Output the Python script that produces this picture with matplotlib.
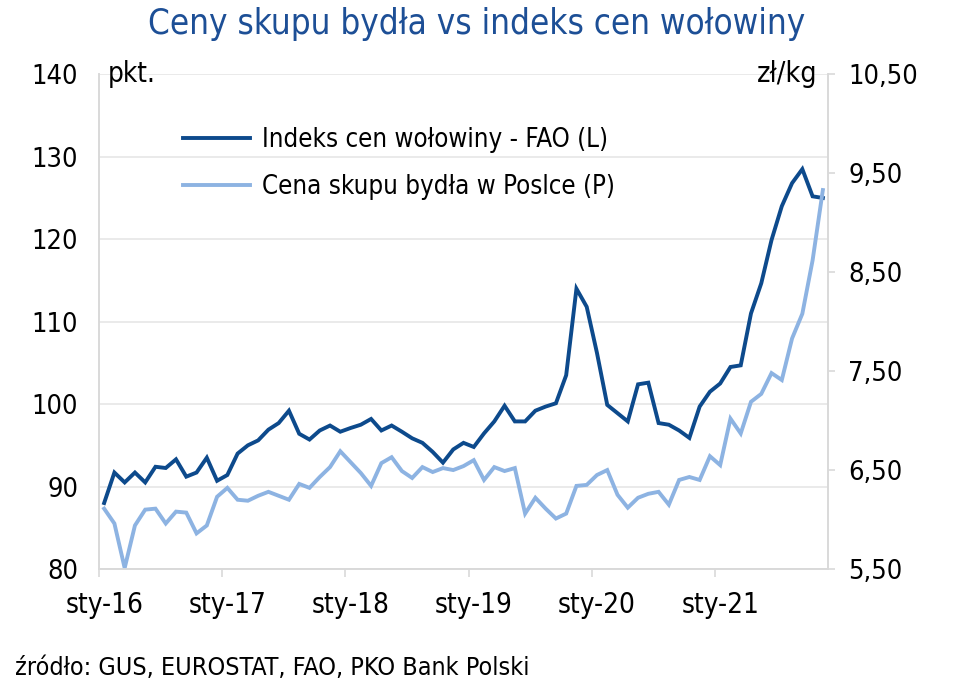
import matplotlib
matplotlib.use("Agg")
import matplotlib.pyplot as plt
import numpy as np
from matplotlib.ticker import FixedLocator, FuncFormatter

plt.rcParams['font.family'] = ['DejaVu Sans']
plt.rcParams['font.stretch'] = 'condensed'

# Monthly data: Jan 2016 .. Nov 2021
fao_index = [88.0, 91.7, 90.5, 91.7, 90.5, 92.4, 92.25, 93.3, 91.2, 91.7, 93.5, 90.7,
             91.4, 94.0, 95.0, 95.6, 96.9, 97.7, 99.2, 96.4, 95.7, 96.8, 97.4, 96.65,
             97.1, 97.5, 98.2, 96.8, 97.4, 96.65, 95.85, 95.3, 94.2, 92.9, 94.5, 95.3,
             94.8, 96.45, 97.9, 99.8, 97.9, 97.9, 99.2, 99.7, 100.1, 103.5, 114.0, 111.8,
             106.2, 99.9, 98.9, 97.9, 102.4, 102.6, 97.7, 97.5, 96.8, 95.9, 99.7, 101.5,
             102.5, 104.5, 104.7, 111.0, 114.65, 119.9, 124.0, 126.8, 128.5, 125.2, 125.0]
cattle_price = [6.11, 5.96, 5.51, 5.94, 6.10, 6.11, 5.96, 6.08, 6.07, 5.86, 5.94, 6.23,
                6.32, 6.20, 6.19, 6.24, 6.28, 6.24, 6.20, 6.36, 6.32, 6.43, 6.53, 6.69,
                6.58, 6.47, 6.34, 6.57, 6.63, 6.49, 6.42, 6.53, 6.48, 6.52, 6.50, 6.54,
                6.60, 6.40, 6.53, 6.49, 6.52, 6.06, 6.22, 6.11, 6.01, 6.06, 6.34, 6.35,
                6.45, 6.50, 6.25, 6.12, 6.22, 6.26, 6.28, 6.15, 6.40, 6.43, 6.40, 6.64,
                6.55, 7.02, 6.87, 7.19, 7.27, 7.48, 7.41, 7.83, 8.08, 8.62, 9.33]
year_labels = ['sty-16', 'sty-17', 'sty-18', 'sty-19', 'sty-20', 'sty-21']
left_ticks = [80, 90, 100, 110, 120, 130, 140]
right_ticks = [5.5, 6.5, 7.5, 8.5, 9.5, 10.5]

dark = '#0d4a8c'
light = '#8db3e2'
grid_c = '#e6e6e6'

fig = plt.figure(figsize=(9.54, 6.89), dpi=100)
W, H = 954, 689
ax = fig.add_axes([99/W, 1-569/H, (828-99)/W, (569-74.3)/H])
ax2 = ax.twinx()

x = np.arange(len(fao_index))
l1, = ax.plot(x, fao_index, color=dark, lw=2.8, solid_joinstyle='miter',
              label='Indeks cen wołowiny - FAO (L)')
l2, = ax2.plot(x, cattle_price, color=light, lw=2.8, solid_joinstyle='miter',
               label='Cena skupu bydła w Poslce (P)')

ax.set_xticks([12 * k for k in range(len(year_labels))])
ax.set_xticklabels(year_labels)
ax.set_xticks([12 * k - 0.5 for k in range(len(year_labels))], minor=True)
ax.set_xlim(-0.5, len(fao_index) - 0.5)
ax.set_ylim(80, 140)
ax2.set_ylim(5.5, 10.5)

ax.yaxis.set_major_locator(FixedLocator(left_ticks))
ax.yaxis.set_major_formatter(FuncFormatter(lambda v, p: f'{v:.0f}'))
ax2.yaxis.set_major_locator(FixedLocator(right_ticks))
ax2.yaxis.set_major_formatter(FuncFormatter(lambda v, p: f'{v:.2f}'.replace('.', ',')))

ax.tick_params(axis='x', which='major', length=0, labelsize=20, pad=16)
ax.tick_params(axis='x', which='minor', length=6, color='#d9d9d9', width=1.2, direction='out')
ax.tick_params(axis='y', length=0, labelsize=19.5, pad=15)
ax2.tick_params(axis='y', length=5, color='#d9d9d9', width=1.2, labelsize=19.5, pad=9.5)

ax.grid(axis='y', color=grid_c, lw=1.2)
ax.set_axisbelow(True)
for a in (ax, ax2):
    a.spines['top'].set_visible(False)
    for s in ('left', 'right', 'bottom'):
        a.spines[s].set_color('#d9d9d9')
        a.spines[s].set_linewidth(1.2)

ax.text(0.012, 1.0, 'pkt.', transform=ax.transAxes, fontsize=20, ha='left', va='center')
ax.text(0.985, 1.0, 'zł/kg', transform=ax.transAxes, fontsize=20.5, ha='right', va='center')

leg = ax2.legend(handles=[l1, l2], loc='upper left', bbox_to_anchor=(0.084, 0.941),
                 frameon=False, fontsize=18.5, handlelength=2.6, handletextpad=0.47,
                 labelspacing=0.85)

fig.text(0.5, 1 - 24/H, 'Ceny skupu bydła vs indeks cen wołowiny', ha='center', va='center',
         fontsize=25, color='#1d4f96')
fig.text(15/W, 1 - 668/H, 'źródło: GUS, EUROSTAT, FAO, PKO Bank Polski', ha='left', va='center',
         fontsize=18)

fig.savefig('out.png', dpi=100)
